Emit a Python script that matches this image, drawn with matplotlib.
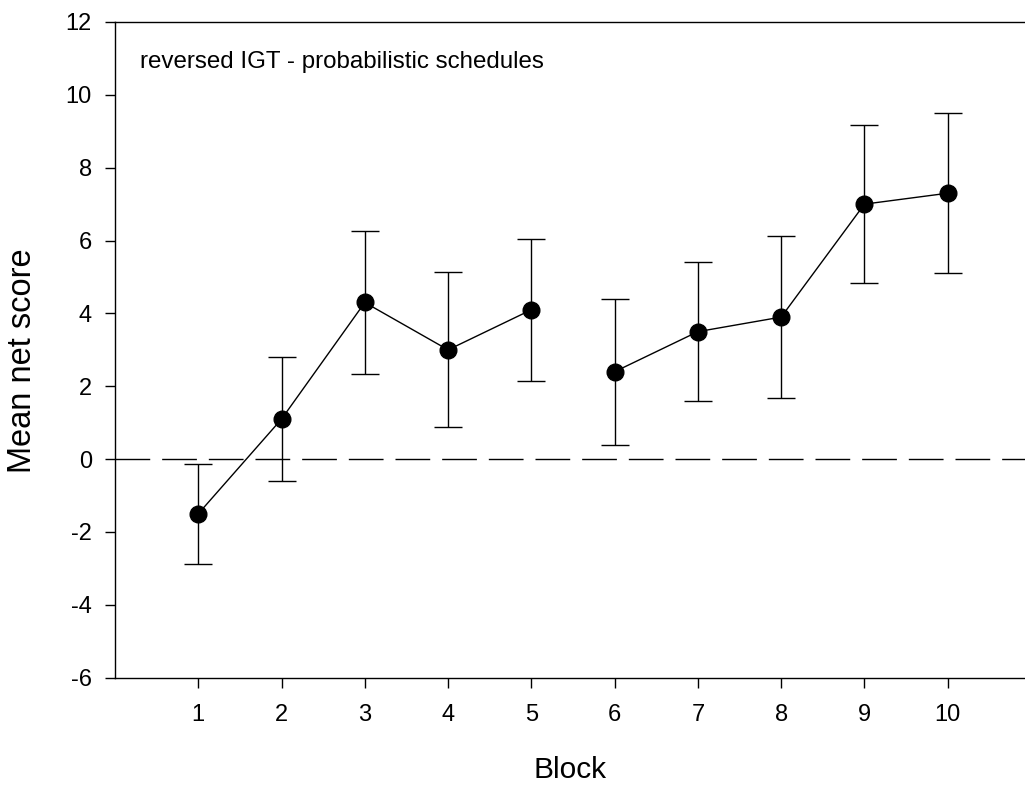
import matplotlib
matplotlib.use("Agg")
import matplotlib.pyplot as plt
import numpy as np

plt.rcParams['font.family'] = ['Liberation Sans', 'DejaVu Sans']
plt.rcParams['axes.unicode_minus'] = False

blocks = [1, 2, 3, 4, 5, 6, 7, 8, 9, 10]
means = [-1.5, 1.1, 4.3, 3.0, 4.1, 2.4, 3.5, 3.9, 7.0, 7.3]
errors = [1.37, 1.7, 1.97, 2.13, 1.95, 2.0, 1.9, 2.23, 2.17, 2.2]
segments = [(0, 5), (5, 10)]
yticks = [-6, -4, -2, 0, 2, 4, 6, 8, 10, 12]

W, H = 1025, 788
fig = plt.figure(figsize=(W/100, H/100), dpi=100)
ax = fig.add_axes([115/W, 110.3/H, 916/W, (677.7-22)/H])

ax.axhline(0, color='black', lw=1, dashes=(25, 8.6))

ax.errorbar(blocks, means, yerr=errors, fmt='none', ecolor='black',
            elinewidth=1, capsize=10, capthick=1)
for s, e in segments:
    ax.plot(blocks[s:e], means[s:e], color='black', lw=1)
ax.plot(blocks, means, 'o', color='black', markersize=12, zorder=5)

ax.set_xlim(0, 11)
ax.set_ylim(-6, 12)
ax.set_xticks(blocks)
ax.set_yticks(yticks)
ax.tick_params(direction='out', length=7.2, width=1, labelsize=17)
ax.tick_params(axis='y', pad=9.5)
ax.tick_params(axis='x', pad=12)
ax.spines['right'].set_visible(False)
for sp in ['left', 'bottom', 'top']:
    ax.spines[sp].set_linewidth(1)

fig.text(570/W, 1 - 778/H, 'Block', fontsize=21.5, ha='center', va='baseline')
fig.text(23/W, 1 - 361/H, 'Mean net score', fontsize=23.5, rotation=90,
         ha='center', va='center')
ax.text(0.30, 10.73, 'reversed IGT - probabilistic schedules', fontsize=17.4,
        ha='left', va='baseline')

fig.savefig('out.png', dpi=100)
